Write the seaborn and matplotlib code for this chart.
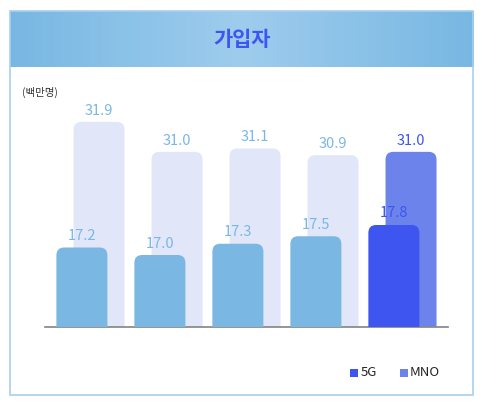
import matplotlib
matplotlib.use("Agg")
import matplotlib.pyplot as plt
import numpy as np
import seaborn as sns
from matplotlib.patches import FancyBboxPatch, Rectangle

quarters = ["1Q25", "2Q25", "3Q25", "4Q25", "1Q26"]
mno = [31.9, 31.0, 31.1, 30.9, 31.0]
g5 = [17.2, 17.0, 17.3, 17.5, 17.8]

LIGHT_BLUE = "#7AB8E3"
BLUE = "#3F55F0"
MNO_LIGHT = "#E1E6F8"
MNO_DARK = "#6B83EA"

sns.set_theme(style="white")
plt.rcParams["font.family"] = ["Noto Sans CJK KR", "DejaVu Sans"]

W, H = 482, 408
fig = plt.figure(figsize=(W / 100, H / 100), dpi=100)


def fx(px):
    return px / W


def fy(py):
    return 1 - py / H


# frame and gradient header
fig.patches.append(Rectangle((fx(10), fy(395)), fx(463), (384) / H, transform=fig.transFigure,
                             fill=False, ec="#A8D0EE", lw=1.2))
hax = fig.add_axes([fx(10), fy(67), fx(463), 56 / H])
grad = np.abs(np.linspace(-1, 1, 256))
c0 = np.array([0.62, 0.80, 0.93])
c1 = np.array([0.47, 0.72, 0.89])
img = c0[None, :] + (c1 - c0)[None, :] * grad[:, None]
hax.imshow(img[None, :, :], aspect="auto", extent=[0, 1, 0, 1])
hax.axis("off")
hax.text(0.5, 0.5, "가입자", color=BLUE, fontsize=15, fontweight="bold",
         ha="center", va="center")

fig.text(fx(22), fy(92), "(백만명)", fontsize=7.5, color="#333333", va="center")

# axes: MNO on main, 5G on twin (different baselines)
left, right, top, base = 45, 448, 100, 327
ax = fig.add_axes([fx(left), fy(base), fx(right - left), (base - top) / H])
ax2 = ax.twinx()
idx = np.arange(len(quarters))
xlim = (-0.603, 4.564)
mno_lim = (25.74, 25.74 + (base - top) / 33.3)
g5_lim = (15.08, 15.08 + (base - top) / 37.5)

sns.barplot(x=idx + 0.09, y=mno, native_scale=True, width=0.654, ax=ax,
            palette=[MNO_LIGHT] * 4 + [MNO_DARK], hue=idx, legend=False, saturation=1)
sns.barplot(x=idx - 0.13, y=g5, native_scale=True, width=0.654, ax=ax2,
            palette=[LIGHT_BLUE] * 4 + [BLUE], hue=idx, legend=False, saturation=1)

for a, lim in ((ax, mno_lim), (ax2, g5_lim)):
    a.set_xlim(*xlim)
    a.set_ylim(*lim)
    aspect = ((lim[1] - lim[0]) / (base - top)) / ((xlim[1] - xlim[0]) / (right - left))
    for p in list(a.patches):
        x0, y0 = p.get_x(), p.get_y()
        w, h = p.get_width(), p.get_height()
        rp = FancyBboxPatch((x0, y0), w, h, boxstyle="round,pad=0,rounding_size=0.1",
                            mutation_aspect=aspect, fc=p.get_facecolor(), ec="none")
        p.remove()
        a.add_patch(rp)
    a.set_yticks([])
    a.set_ylabel("")
    for s in a.spines.values():
        s.set_visible(False)

for i in idx:
    col = BLUE if i == 4 else LIGHT_BLUE
    ax.text(i + 0.09, mno[i] + 0.13, f"{mno[i]:.1f}", ha="center", va="bottom",
            fontsize=10.5, color=col)
    ax2.text(i - 0.13, g5[i] + 0.12, f"{g5[i]:.1f}", ha="center", va="bottom",
             fontsize=10.5, color=col, zorder=5)

ax.spines["bottom"].set_visible(True)
ax.spines["bottom"].set_color("#888888")
ax.set_xticks(idx)
ax.set_xticklabels(quarters, fontsize=10, color="#222222")
ax.tick_params(axis="x", length=0, pad=4)
ax2.set_xticks([])

# legend
fig.patches.append(Rectangle((fx(350), fy(377)), fx(8), 8 / H, transform=fig.transFigure,
                             fc=BLUE, ec="none"))
fig.text(fx(361), fy(373), "5G", fontsize=9.5, color="#222222", va="center")
fig.patches.append(Rectangle((fx(400), fy(377)), fx(8), 8 / H, transform=fig.transFigure,
                             fc=MNO_DARK, ec="none"))
fig.text(fx(410), fy(373), "MNO", fontsize=9.5, color="#222222", va="center")

fig.savefig("out.png", dpi=100, facecolor="white")
